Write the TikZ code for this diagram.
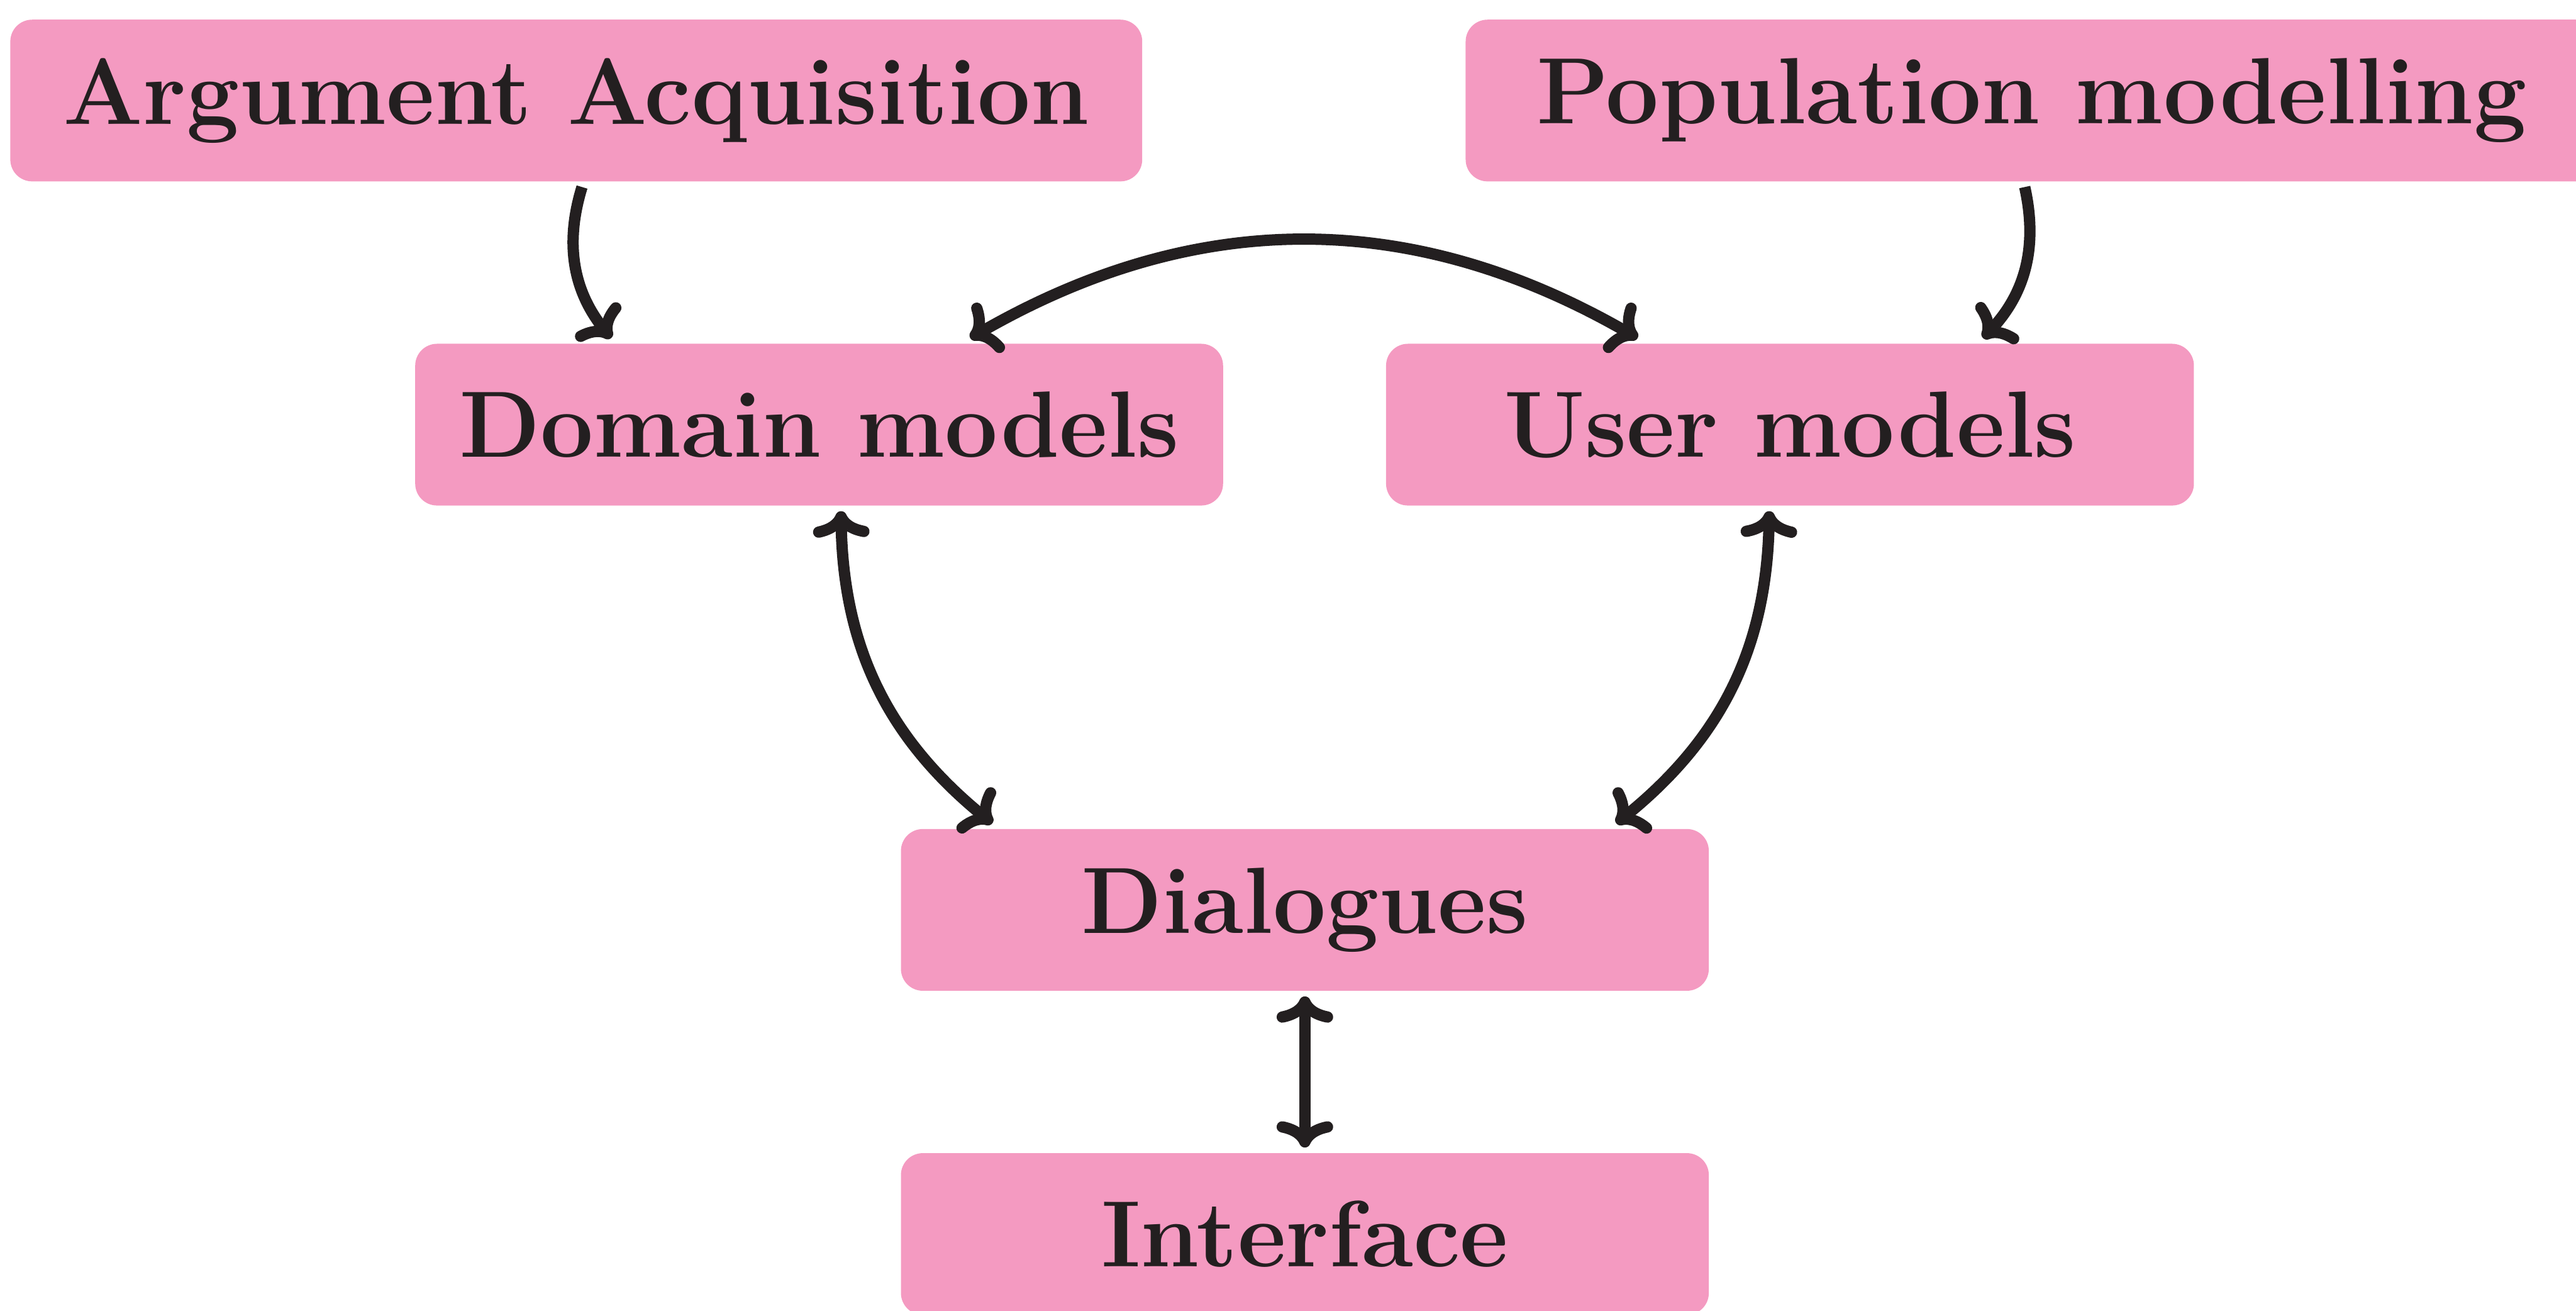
\documentclass[tikz,border=0pt]{standalone}
\usetikzlibrary{arrows.meta}
\definecolor{boxpink}{RGB}{244,154,193}
\definecolor{inkdark}{RGB}{35,31,32}
\begin{document}
\begin{tikzpicture}[x=0.5433cm, y=0.5433cm, line width=2.8pt, >={Computer Modern Rightarrow[length=6.5pt, width=14pt]}, every node/.append style={text=inkdark, font=\fontsize{23.3}{28}\selectfont\bfseries}, box/.style={fill=boxpink, rounded corners=0.19cm, minimum height=1.407cm, inner sep=0pt}]
	\useasboundingbox (0,0) rectangle (41.26,20.99);

	\node[box, minimum width=9.85cm] (acq) at (9.23,19.38) {Argument Acquisition};
	\node[box, minimum width=9.85cm] (pop) at (32.54,19.38) {Population modelling};

	\node[box, minimum width=7.03cm] (dom) at (13.12,14.19) {Domain models};
	\node[box, minimum width=7.03cm] (usr) at (28.67,14.19) {User models};

	\node[box, minimum width=7.03cm] (dia) at (20.90,6.42) {Dialogues};
	\node[box, minimum width=7.03cm] (int) at (20.90,1.23) {Interface};

	\draw[->, inkdark] ([xshift=0.05cm]acq.south) to[bend right=28] ([xshift=-1.81cm]dom.north);
	\draw[->, inkdark] ([xshift=-0.06cm]pop.south) to[bend left=28] ([xshift=1.68cm]usr.north);

	\draw[<->, inkdark] ([xshift=1.315cm]dom.north) to[bend left=30] ([xshift=-1.326cm]usr.north);

	\draw[<->, inkdark] ([xshift=0.19cm]dom.south) to[bend right=25] ([xshift=-2.72cm]dia.north);
	\draw[<->, inkdark] ([xshift=-0.18cm]usr.south) to[bend left=25] ([xshift=2.71cm]dia.north);

	\draw[<->, inkdark] (dia) -- (int);
\end{tikzpicture}
\end{document}
